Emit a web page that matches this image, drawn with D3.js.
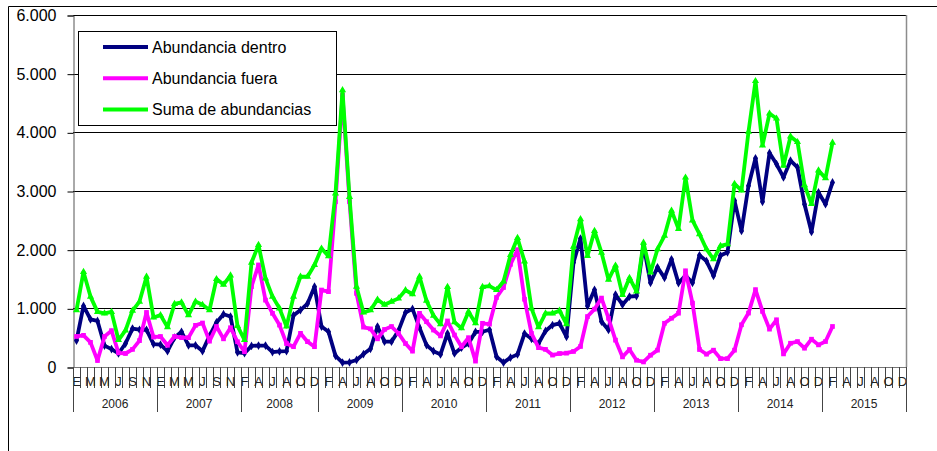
<!DOCTYPE html>
<html>
<head>
<meta charset="utf-8">
<script src="https://cdn.jsdelivr.net/npm/d3@7"></script>
<style>
  body { margin: 0; background: #fff; }
  svg { display: block; font-family: "Liberation Sans", Arial, sans-serif; }
</style>
</head>
<body>
<div id="chart"></div>
<script>
// categories: one per month, 2008 begins in February
const years = ["2006", "2007", "2008", "2009", "2010", "2011", "2012", "2013", "2014", "2015"];
const monthLetters = ["E", "F", "M", "A", "M", "J", "J", "A", "S", "O", "N", "D"];
const firstMonth = [0, 0, 1, 0, 0, 0, 0, 0, 0, 0];
const yTicks = [0, 1000, 2000, 3000, 4000, 5000, 6000];

// monthly values (ends Feb 2015)
const dentro = [
  450, 1040, 810, 785, 365, 305, 230, 400, 655, 635, 635, 390,
  380, 270, 500, 600, 370, 370, 270, 530, 760, 900, 860, 250,
  235, 360, 365, 365, 255, 265, 270, 880, 970, 1080, 1370,
  690, 600, 190, 75, 80, 120, 220, 310, 690, 432, 432, 620,
  930, 990, 670, 373, 270, 215, 572, 230, 330, 402, 600, 600,
  635, 175, 75, 160, 215, 570, 480, 400, 615, 715, 745, 515,
  1780, 2190, 1040, 1315, 775, 632, 1234, 1062, 1200, 1210, 2080, 1435,
  1700, 1520, 1835, 1430, 1560, 1435, 1905, 1805, 1555, 1900, 1955, 2836,
  2320, 3089, 3557, 2815, 3649, 3460, 3232, 3517, 3403, 2775, 2301, 2975,
  2775, 3146
];
const fuera = [
  520, 540, 420, 110, 520, 620, 240, 230, 300, 450, 930, 510,
  520, 370, 520, 500, 500, 710, 750, 440, 690, 480, 670, 430,
  260, 1370, 1740, 1140, 915, 715, 400, 346, 574, 432, 346,
  1312, 1284, 2817, 4635, 2820, 1255, 680, 650, 480, 640, 690, 574,
  400, 270, 915, 772, 630, 530, 785, 545, 345, 500, 100, 745,
  730, 1185, 1355, 1750, 2000, 1155, 572, 330, 300, 203, 230, 236,
  265, 350, 860, 986, 1175, 831, 458, 172, 298, 115, 86, 201,
  287, 745, 831, 917, 1640, 1089, 298, 218, 287, 143, 143, 287,
  720, 919, 1319, 948, 645, 805, 223, 405, 434, 320, 474, 377,
  434, 691
];
const suma = [
  970, 1620, 1200, 940, 915, 940, 460, 625, 960, 1115, 1540, 845,
  885, 680, 1075, 1100, 885, 1115, 1060, 970, 1500, 1405, 1560, 700,
  460, 1780, 2080, 1510, 1200, 1000, 690, 1200, 1540, 1540, 1740,
  2020, 1890, 2960, 4720, 2900, 1370, 930, 970, 1150, 1060, 1115, 1170,
  1310, 1240, 1540, 1130, 875, 730, 1365, 765, 660, 943, 745, 1365,
  1380, 1314, 1457, 1910, 2200, 1800, 1000, 680, 914, 914, 960, 730,
  2050, 2520, 1895, 2320, 1950, 1490, 1730, 1230, 1520, 1290, 2120, 1610,
  2008, 2237, 2666, 2355, 3230, 2500, 2265, 2008, 1836, 2065, 2094, 3123,
  3010, 4010, 4875, 3778, 4320, 4235, 3432, 3930, 3835, 3100, 2778, 3350,
  3220, 3825
];

const seriesNames = ["Abundancia dentro", "Abundancia fuera", "Suma de abundancias"];
const seriesColors = ["#000080", "#ff00ff", "#00ff00"];

const W = 937, H = 451;
const svg = d3.select("#chart").append("svg").attr("width", W).attr("height", H);

// build the month categories
const categories = [];
years.forEach((yr, k) => {
  monthLetters.slice(firstMonth[k]).forEach(m => categories.push({ year: yr, month: m }));
});

const plot = { left: 73, right: 906, top: 15, bottom: 367 };
const x = d3.scaleBand().domain(d3.range(categories.length)).range([plot.left, plot.right]);
const y = d3.scaleLinear().domain([0, 6000]).range([plot.bottom, plot.top]);
const bw = x.bandwidth();
const cx = i => x(i) + bw / 2;

const fmt = d3.formatLocale({ decimal: ",", thousands: ".", grouping: [3], currency: ["", ""] }).format(",");

// outer frame (top + left visible)
svg.append("line").attr("x1", 8.5).attr("x2", W).attr("y1", 6.5).attr("y2", 6.5)
  .attr("stroke", "#000");
svg.append("line").attr("x1", 8.5).attr("x2", 8.5).attr("y1", 6.5).attr("y2", H)
  .attr("stroke", "#000");

// gridlines
svg.append("g").selectAll("line").data(yTicks.filter(d => d > 0)).join("line")
  .attr("x1", plot.left).attr("x2", plot.right)
  .attr("y1", d => Math.round(y(d)) + 0.5).attr("y2", d => Math.round(y(d)) + 0.5)
  .attr("stroke", "#000");

// right border of plot
svg.append("line").attr("x1", plot.right + 0.5).attr("x2", plot.right + 0.5)
  .attr("y1", plot.top).attr("y2", plot.bottom).attr("stroke", "#8c8c8c").attr("stroke-width", 1.5);

// y axis
const yAxis = svg.append("g").attr("transform", `translate(${plot.left + 0.5},0.5)`)
  .call(d3.axisLeft(y).tickValues(yTicks).tickFormat(fmt).tickSize(6).tickPadding(11));
yAxis.select(".domain").attr("stroke", "#555");
yAxis.selectAll(".tick line").attr("stroke", "#000");
yAxis.selectAll(".tick text").attr("font-size", 16).attr("fill", "#000")
  .attr("font-family", "'Liberation Sans', Arial, sans-serif");

// category axis
const xg = svg.append("g");
xg.append("line").attr("x1", plot.left).attr("x2", plot.right)
  .attr("y1", plot.bottom + 0.5).attr("y2", plot.bottom + 0.5).attr("stroke", "#777");
xg.selectAll("line.cat").data(d3.range(categories.length + 1)).join("line")
  .attr("class", "cat")
  .attr("x1", i => Math.round(plot.left + i * bw) + 0.5)
  .attr("x2", i => Math.round(plot.left + i * bw) + 0.5)
  .attr("y1", plot.bottom).attr("y2", 388)
  .attr("stroke", "#444");
xg.selectAll("text.month").data(categories.map((c, i) => ({ ...c, i })).filter(d => d.i % 2 === 0)).join("text")
  .attr("class", "month")
  .attr("x", d => cx(d.i)).attr("y", 386)
  .attr("text-anchor", "middle").attr("font-size", 13).attr("fill", "#222")
  .text(d => d.month);

// year separators and labels
const yearSpans = years.map(yr => {
  const idx = categories.map((c, i) => c.year === yr ? i : -1).filter(i => i >= 0);
  return { year: yr, start: idx[0], end: idx[idx.length - 1] + 1 };
});
xg.selectAll("line.year").data([0].concat(yearSpans.map(d => d.end))).join("line")
  .attr("class", "year")
  .attr("x1", i => Math.round(plot.left + i * bw) + 0.5)
  .attr("x2", i => Math.round(plot.left + i * bw) + 0.5)
  .attr("y1", plot.bottom).attr("y2", 412)
  .attr("stroke", "#444");
xg.selectAll("text.year").data(yearSpans).join("text")
  .attr("class", "year")
  .attr("x", d => plot.left + (d.start + d.end) / 2 * bw).attr("y", 408)
  .attr("text-anchor", "middle").attr("font-size", 12).attr("fill", "#222")
  .text(d => d.year);

// series
const series = [dentro, fuera, suma];
const symbols = [d3.symbolDiamond, d3.symbolSquare, d3.symbolTriangle];
const line = d3.line().x((d, i) => cx(i)).y(d => y(d));
series.forEach((vals, s) => {
  svg.append("path").datum(vals)
    .attr("fill", "none").attr("stroke", seriesColors[s])
    .attr("stroke-width", 3.8).attr("stroke-linejoin", "round")
    .attr("d", line);
  svg.append("g").selectAll("path").data(vals).join("path")
    .attr("transform", (d, i) => `translate(${cx(i)},${y(d)})`)
    .attr("d", d3.symbol().type(symbols[s]).size(22))
    .attr("fill", seriesColors[s]);
});

// legend
const lg = svg.append("g");
lg.append("rect").attr("x", 78.5).attr("y", 31.5).attr("width", 258).attr("height", 94)
  .attr("fill", "#fff").attr("stroke", "#000");
seriesNames.forEach((name, k) => {
  const ly = 47 + k * 31.3;
  lg.append("line").attr("x1", 103).attr("x2", 148).attr("y1", ly).attr("y2", ly)
    .attr("stroke", seriesColors[k]).attr("stroke-width", 4);
  lg.append("text").attr("x", 152).attr("y", ly).attr("dy", "0.35em")
    .attr("font-size", 16).attr("fill", "#000").text(name);
});
</script>
</body>
</html>
